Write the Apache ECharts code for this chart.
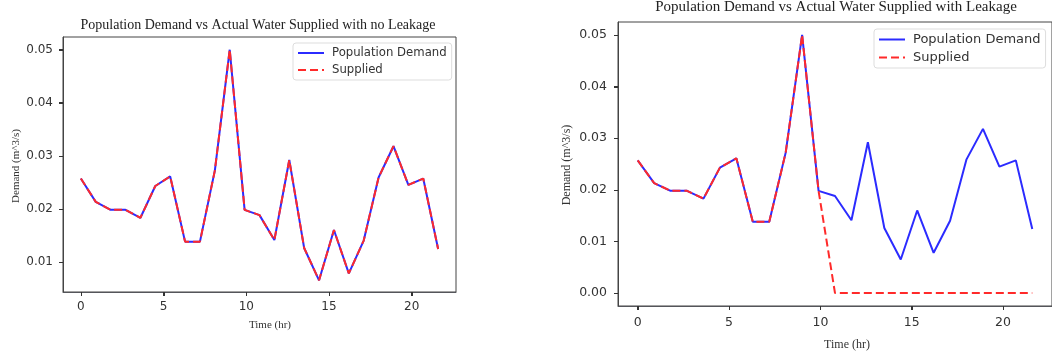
<!DOCTYPE html>
<html>
<head>
<meta charset="utf-8">
<script src="https://cdn.jsdelivr.net/npm/echarts@6/dist/echarts.min.js"></script>
<style>
  html, body { margin: 0; padding: 0; background: #fff; }
  #chart { width: 1052px; height: 356px; }
</style>
</head>
<body>
<div id="chart"></div>
<script>
// time axis (hr)
var timeHr = [0, 0.9, 1.8, 2.7, 3.6, 4.5, 5.4, 6.3, 7.2, 8.1, 9.0, 9.9, 10.8, 11.7,
              12.6, 13.5, 14.4, 15.3, 16.2, 17.1, 18.0, 18.9, 19.8, 20.7, 21.6];
// population demand (m^3/s)
var demand = [0.0257, 0.0213, 0.0198, 0.0198, 0.0183, 0.0243, 0.0261, 0.0138, 0.0138,
              0.0272, 0.0500, 0.0198, 0.0188, 0.0141, 0.0292, 0.0126, 0.0065, 0.0160,
              0.0078, 0.0140, 0.0259, 0.0318, 0.0245, 0.0257, 0.0124];
// supplied, no leakage
var suppliedNoLeak = [0.0257, 0.0213, 0.0198, 0.0198, 0.0183, 0.0243, 0.0261, 0.0138, 0.0138,
              0.0272, 0.0500, 0.0198, 0.0188, 0.0141, 0.0292, 0.0126, 0.0065, 0.0160,
              0.0078, 0.0140, 0.0259, 0.0318, 0.0245, 0.0257, 0.0124];
// supplied, with leakage
var suppliedLeak = [0.0257, 0.0213, 0.0198, 0.0198, 0.0183, 0.0243, 0.0261, 0.0138, 0.0138,
              0.0272, 0.0500, 0.0198, 0, 0, 0, 0, 0, 0,
              0, 0, 0, 0, 0, 0, 0];
// tick values
var xTicks = [0, 5, 10, 15, 20];
var yTicksLeft = [0.01, 0.02, 0.03, 0.04, 0.05];
var yTicksRight = [0, 0.01, 0.02, 0.03, 0.04, 0.05];

var titles = ['Population Demand vs Actual Water Supplied with no Leakage',
              'Population Demand vs Actual Water Supplied with Leakage'];
var xName = 'Time (hr)', yName = 'Demand (m^3/s)';

var xRange = [-1.08, 22.68];
var yRanges = [[0.0043, 0.0524], [-0.0025, 0.0525]];

function pairs(xs, ys) {
  var out = [];
  for (var i = 0; i < xs.length; i++) out.push([xs[i], ys[i]]);
  return out;
}

var blue = '#2b2bff', red = '#ff2a2a', ink = '#333', frame = '#444';

function xAxisOf(idx, fs, margin) {
  return {
    type: 'value', gridIndex: idx, min: xRange[0], max: xRange[1],
    axisLine: { onZero: false },
    splitLine: { show: false },
    axisTick: { show: true, customValues: xTicks, length: 4, lineStyle: { color: ink, width: 1 } },
    axisLabel: { customValues: xTicks, margin: margin, fontFamily: 'DejaVu Sans', fontSize: fs, color: ink }
  };
}
function yAxisOf(idx, ticks, fs, margin) {
  return {
    type: 'value', gridIndex: idx, min: yRanges[idx][0], max: yRanges[idx][1],
    axisLine: { show: true, onZero: false, lineStyle: { color: frame } },
    splitLine: { show: false },
    axisTick: { show: true, customValues: ticks, length: 4, lineStyle: { color: ink, width: 1 } },
    axisLabel: { customValues: ticks, margin: margin, fontFamily: 'DejaVu Sans', fontSize: fs, color: ink,
                 formatter: function (v) { return v.toFixed(2); } }
  };
}
function legendOf(idx, left, top, fs) {
  return {
    orient: 'vertical', left: left, top: top,
    data: [{ name: 'Population Demand' }, { name: 'Supplied' }],
    seriesIndex: idx == 0 ? [0, 1] : [2, 3],
    itemWidth: 26, itemHeight: 12, itemGap: 5,
    itemStyle: { opacity: 0 },
    padding: [4, 5, 4, 4],
    borderColor: '#ddd', borderWidth: 1, borderRadius: 3, backgroundColor: '#fff',
    textStyle: { fontFamily: 'DejaVu Sans', fontSize: fs, color: ink, padding: [0, 0, 0, 3] }
  };
}
function lineOf(name, idx, ys, color, dashed) {
  return {
    name: name, type: 'line', xAxisIndex: idx, yAxisIndex: idx,
    data: pairs(timeHr, ys), symbol: 'none', showSymbol: false,
    lineStyle: { color: color, width: 2, type: dashed ? [8, 4] : 'solid' },
    itemStyle: { color: color }, z: dashed ? 3 : 2
  };
}
function axisName(text, x, y, fs, vertical) {
  return {
    type: 'text', x: x, y: y, rotation: vertical ? Math.PI / 2 : 0,
    style: { text: text, x: 0, y: 0, align: 'center', verticalAlign: 'middle',
             font: fs + 'px "Liberation Serif"', fill: ink }
  };
}

var names = [
  axisName(yName, 16, 166, 11, true),
  axisName(xName, 270, 325, 11, false),
  axisName(yName, 567, 165, 12, true),
  axisName(xName, 847, 345, 12, false)
];

var chart = echarts.init(document.getElementById('chart'));
chart.setOption({
  animation: false,
  backgroundColor: '#fff',
  title: [
    { text: titles[0], left: 258, top: 18, textAlign: 'center', padding: 0,
      textStyle: { fontFamily: 'Liberation Serif', fontSize: 14, fontWeight: 'normal', color: '#222' } },
    { text: titles[1], left: 836, top: 0, textAlign: 'center', padding: 0,
      textStyle: { fontFamily: 'Liberation Serif', fontSize: 15, fontWeight: 'normal', color: '#222' } }
  ],
  graphic: names,
  grid: [
    { left: 63, top: 37, width: 393, height: 255, show: true, borderColor: frame, borderWidth: 1 },
    { left: 618, top: 22, width: 435, height: 284, show: true, borderColor: frame, borderWidth: 1 }
  ],
  legend: [legendOf(0, 293, 43, 11.7), legendOf(1, 874, 29, 13)],
  xAxis: [xAxisOf(0, 12, 9), xAxisOf(1, 12.5, 10)],
  yAxis: [yAxisOf(0, yTicksLeft, 12, 10), yAxisOf(1, yTicksRight, 12.5, 11)],
  series: [
    lineOf('Population Demand', 0, demand, blue, false),
    lineOf('Supplied', 0, suppliedNoLeak, red, true),
    lineOf('Population Demand', 1, demand, blue, false),
    lineOf('Supplied', 1, suppliedLeak, red, true)
  ]
});

// 刻度线：用坐标轴换算出像素位置，画在框外
function tickLine(x1, y1, x2, y2) {
  return { type: 'line', silent: true, z: 50,
           shape: { x1: x1, y1: y1, x2: x2, y2: y2 },
           style: { stroke: ink, lineWidth: 1 } };
}
var ticks = [];
[[0, yTicksLeft], [1, yTicksRight]].forEach(function (g) {
  var idx = g[0];
  var bottom = Math.round(chart.convertToPixel({ yAxisIndex: idx }, yRanges[idx][0]));
  var left = Math.round(chart.convertToPixel({ xAxisIndex: idx }, xRange[0]));
  xTicks.forEach(function (v) {
    var px = Math.round(chart.convertToPixel({ xAxisIndex: idx }, v)) + 0.5;
    ticks.push(tickLine(px, bottom, px, bottom + 4));
  });
  g[1].forEach(function (v) {
    var py = Math.round(chart.convertToPixel({ yAxisIndex: idx }, v)) + 0.5;
    ticks.push(tickLine(left - 4, py, left, py));
  });
});
chart.setOption({ graphic: names.concat(ticks) });
</script>
</body>
</html>
